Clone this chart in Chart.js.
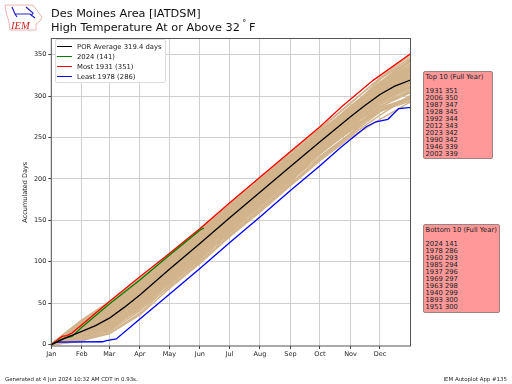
<!DOCTYPE html>
<html>
<head>
<meta charset="utf-8">
<title>Des Moines Area [IATDSM]</title>
<script src="https://cdn.jsdelivr.net/npm/chart.js@4"></script>
<style>
    body { margin: 0; background: #fff; font-family: "DejaVu Sans", sans-serif; color: #111; }
    #wrap { position: relative; width: 512px; height: 384px; overflow: hidden; }
    #chartCanvas { position: absolute; left: 0; top: 0; }
    .title { position: absolute; left: 51px; font-size: 11.3px; white-space: nowrap; line-height: 14px; }
    .title sup { font-size: 8px; line-height: 0; }
    .foot { position: absolute; top: 376px; font-size: 5.45px; line-height: 6px; color: #222; white-space: nowrap; }
    .box { position: absolute; box-sizing: border-box; background: #ff9999; border: 1px solid #a08080; border-radius: 2px;
        font-size: 6.8px; line-height: 7px; padding: 2px 1.5px; white-space: pre; color: #222; }
    #legend { position: absolute; left: 55px; top: 39px; width: 111px; height: 44px; box-sizing: border-box; background: #fff;
        border: 1px solid #ddd; border-radius: 2px; font-size: 6.85px; color: #222; }
    #legend .label { position: absolute; left: 21px; line-height: 7px; white-space: nowrap; }
    #legend .swatch { position: absolute; left: 1px; width: 15px; height: 0; border-top: 1.4px solid #000; }
    #logo { position: absolute; left: 0; top: 0; }
</style>
</head>
<body>
<div id="wrap">
    <canvas id="chartCanvas" width="512" height="384"></canvas>
    <svg id="logo" width="46" height="32" viewBox="0 0 46 32">
        <path d="M5 5 L33 5 L36 9 L42 17 L40 21 L36 24 L36 30 L10 30 L9 22 L6 12 Z" fill="#fff" stroke="#e8a0a0" stroke-width="0.8"/>
        <path d="M12 7 L15 14 L30 14 L35 18 M26 7 L33 13 L31 16 M15 14 L17 17" fill="none" stroke="#2222cc" stroke-width="1.2"/>
        <text x="11" y="28.5" font-family="Liberation Serif" font-style="italic" font-size="10.5" fill="#cc2222">IEM</text>
    </svg>
    <div class="title" style="top:7px">Des Moines Area [IATDSM]</div>
    <div class="title" style="top:21px">High Temperature At or Above 32<sup> ° </sup>F</div>
    <div id="legend"></div>
    <div class="box" id="topBox" style="left:423px;top:71px;width:70px;height:88px;padding-top:1.5px"></div>
    <div class="box" id="bottomBox" style="left:423px;top:224px;width:77px;height:89px"></div>
    <div class="foot" style="left:5px">Generated at 4 Jun 2024 10:32 AM CDT in 0.93s.</div>
    <div class="foot" style="right:5px">IEM Autoplot App #135</div>
</div>
<script>
// month starts and the last day of the year, day of year
const monthDays = [1, 32, 60, 91, 121, 152, 182, 213, 244, 274, 305, 335, 366];
const monthLabels = ['Jan', 'Feb', 'Mar', 'Apr', 'May', 'Jun', 'Jul', 'Aug', 'Sep', 'Oct', 'Nov', 'Dec'];
const yTicks = [0, 50, 100, 150, 200, 250, 300, 350];

// highlighted lines
const averageLineDays = [1, 15, 32, 46, 60, 75, 91, 121, 152, 182, 213, 244, 274, 305, 320, 335, 350, 366];
const averageLine = [0, 8, 16, 23, 32, 45, 60, 91, 122, 153, 184, 215, 245, 275, 289, 302, 312, 319.4];
const current2024Days = [1, 12, 22, 32, 60, 91, 121, 152, 156];
const current2024 = [0, 7, 10, 21, 49, 78, 108, 138, 141];
const most1931Days = [1, 12, 17, 22, 32, 60, 91, 121, 152, 182, 213, 244, 274, 296, 328, 366];
const most1931 = [0, 10, 11, 14, 24, 52, 82, 110, 140, 171, 202, 233, 263, 287, 319, 351];
const least1978Days = [1, 5, 53, 57, 67, 91, 121, 152, 183, 213, 244, 274, 295, 321, 331, 343, 354, 364, 366];
const least1978 = [0, 3, 3.5, 5, 7, 31, 61, 92, 124, 154, 186, 216, 238, 263, 269, 272, 285, 286, 286];

// other years, value at each of monthDays
const y1893 = [0, 10, 24, 50, 80, 108, 137, 168, 199, 231, 259, 283, 300];
const y1896 = [0, 14, 30, 58, 88, 118, 148, 180, 210, 239, 268, 296, 315];
const y1899 = [0, 13, 35, 64, 95, 126, 158, 187, 217, 246, 277, 305, 324];
const y1901 = [0, 20, 34, 62, 92, 122, 154, 186, 216, 245, 274, 302, 322];
const y1905 = [0, 9, 21, 49, 81, 111, 141, 172, 203, 233, 263, 290, 310];
const y1908 = [1, 29, 48, 79, 107, 139, 169, 197, 228, 258, 286, 310, 332];
const y1910 = [1, 24, 46, 76, 103, 133, 162, 192, 222, 250, 278, 304, 320];
const y1913 = [0, 15, 33, 56, 86, 116, 147, 179, 211, 240, 270, 299, 321];
const y1918 = [0, 12, 28, 59, 91, 119, 151, 182, 213, 243, 274, 303, 325];
const y1921 = [1, 25, 47, 78, 108, 137, 167, 198, 229, 257, 287, 313, 335];
const y1925 = [0, 19, 37, 60, 94, 124, 153, 183, 213, 244, 272, 299, 317];
const y1928 = [1, 14, 30, 62, 93, 125, 156, 190, 221, 251, 284, 315, 345];
const y1934 = [1, 27, 49, 75, 104, 136, 168, 198, 228, 256, 283, 309, 330];
const y1937 = [0, 18, 28, 52, 78, 105, 139, 172, 202, 233, 261, 283, 296];
const y1938 = [0, 17, 38, 68, 97, 127, 158, 190, 220, 249, 277, 303, 324];
const y1940 = [0, 6, 14, 38, 72, 103, 135, 170, 199, 233, 262, 284, 299];
const y1943 = [0, 11, 25, 55, 87, 117, 146, 176, 208, 238, 268, 296, 318];
const y1946 = [1, 20, 38, 72, 98, 128, 158, 190, 219, 249, 279, 312, 339];
const y1949 = [0, 16, 29, 57, 85, 114, 145, 177, 207, 236, 265, 292, 312];
const y1951 = [0, 8, 22, 42, 70, 100, 132, 162, 194, 225, 254, 281, 300];
const y1954 = [1, 23, 41, 69, 99, 129, 159, 188, 217, 247, 278, 306, 328];
const y1957 = [0, 13, 27, 53, 83, 112, 143, 174, 205, 235, 263, 290, 306];
const y1960 = [0, 5, 13, 36, 68, 98, 130, 160, 192, 222, 250, 272, 293];
const y1962 = [0, 10, 20, 47, 77, 107, 138, 169, 200, 230, 259, 288, 304];
const y1963 = [0, 12, 26, 48, 82, 113, 144, 176, 206, 236, 266, 286, 298];
const y1966 = [0, 21, 39, 65, 95, 123, 152, 184, 214, 242, 270, 295, 313];
const y1969 = [0, 4, 18, 44, 74, 104, 134, 165, 196, 232, 258, 282, 297];
const y1971 = [1, 23, 44, 75, 106, 137, 166, 194, 226, 255, 282, 308, 329];
const y1973 = [0, 15, 31, 61, 89, 120, 150, 181, 212, 241, 271, 300, 319];
const y1976 = [1, 26, 43, 74, 101, 131, 161, 193, 224, 253, 281, 305, 327];
const y1979 = [0, 7, 16, 41, 75, 101, 131, 163, 194, 224, 252, 277, 301];
const y1981 = [0, 22, 35, 63, 93, 126, 155, 185, 215, 246, 275, 304, 326];
const y1983 = [0, 18, 32, 54, 84, 115, 149, 178, 209, 239, 267, 297, 320];
const y1985 = [0, 7, 17, 46, 80, 110, 140, 170, 200, 232, 260, 282, 294];
const y1987 = [1, 22, 42, 68, 100, 130, 160, 191, 222, 252, 285, 320, 347];
const y1989 = [0, 21, 36, 70, 103, 133, 163, 193, 221, 251, 280, 307, 323];
const y1990 = [1, 24, 40, 70, 98, 126, 157, 189, 220, 250, 280, 314, 342];
const y1992 = [1, 26, 44, 72, 102, 132, 163, 194, 225, 255, 287, 317, 344];
const y1995 = [0, 11, 23, 51, 79, 109, 142, 175, 204, 234, 262, 293, 316];
const y1998 = [1, 24, 45, 73, 100, 128, 160, 192, 223, 254, 284, 312, 336];
const y2000 = [1, 25, 42, 74, 105, 135, 164, 195, 224, 253, 285, 313, 334];
const y2001 = [0, 9, 26, 58, 90, 121, 151, 180, 210, 240, 269, 298, 318];
const y2002 = [1, 16, 36, 66, 96, 124, 155, 186, 218, 247, 276, 308, 339];
const y2004 = [0, 14, 33, 65, 97, 129, 159, 189, 219, 248, 281, 309, 330];
const y2005 = [0, 20, 40, 67, 96, 130, 160, 191, 221, 248, 276, 307, 331];
const y2006 = [1, 28, 50, 80, 106, 138, 168, 199, 231, 260, 291, 322, 350];
const y2010 = [0, 8, 19, 45, 76, 106, 136, 167, 198, 227, 255, 286, 308];
const y2012 = [1, 30, 52, 78, 110, 140, 170, 201, 232, 261, 292, 321, 343];
const y2014 = [0, 12, 22, 52, 86, 119, 149, 178, 206, 237, 266, 294, 311];
const y2016 = [1, 19, 43, 71, 101, 134, 164, 195, 226, 256, 288, 316, 338];
const y2017 = [1, 28, 46, 77, 105, 135, 165, 196, 227, 258, 285, 311, 333];
const y2019 = [0, 15, 24, 50, 83, 111, 141, 173, 204, 231, 260, 287, 305];
const y2020 = [0, 17, 35, 66, 94, 127, 157, 187, 218, 248, 279, 310, 329];
const y2021 = [0, 19, 27, 56, 88, 120, 153, 185, 216, 244, 275, 305, 328];
const y2023 = [0, 18, 36, 64, 92, 125, 156, 188, 219, 250, 282, 314, 342];

const otherYears = [y1893, y1896, y1899, y1901, y1905, y1908, y1910, y1913, y1918, y1921, y1925, y1928, y1934, y1937,
    y1938, y1940, y1943, y1946, y1949, y1951, y1954, y1957, y1960, y1962, y1963, y1966, y1969, y1971, y1973, y1976,
    y1979, y1981, y1983, y1985, y1987, y1989, y1990, y1992, y1995, y1998, y2000, y2001, y2002, y2004, y2005, y2006,
    y2010, y2012, y2014, y2016, y2017, y2019, y2020, y2021, y2023];

const topTen = ['1931 351', '2006 350', '1987 347', '1928 345', '1992 344', '2012 343', '2023 342', '1990 342', '1946 339', '2002 339'];
const bottomTen = ['2024 141', '1978 286', '1960 293', '1985 294', '1937 296', '1969 297', '1963 298', '1940 299', '1893 300', '1951 300'];

const lineLabels = ['POR Average 319.4 days', '2024 (141)', 'Most 1931 (351)', 'Least 1978 (286)'];
const lineColors = ['#000000', '#008000', '#ff0000', '#0000ff'];

function toPoints(days, values) {
    return values.map((v, i) => ({ x: days[i], y: v }));
}

const mainPoints = [
    toPoints(averageLineDays, averageLine),
    toPoints(current2024Days, current2024),
    toPoints(most1931Days, most1931),
    toPoints(least1978Days, least1978)
];

const mainLines = mainPoints.map((points, i) => ({
    label: lineLabels[i],
    data: points,
    borderColor: lineColors[i],
    borderWidth: 1.3
}));

const tanLines = otherYears.map(values => ({
    label: '',
    data: toPoints(monthDays, values),
    borderColor: '#d2b48c',
    borderWidth: 1.5
}));

// Frame around the plot, the grid only gives the left and bottom sides
const framePlugin = {
    id: 'frame',
    afterDraw(chart) {
        const a = chart.chartArea;
        const c = chart.ctx;
        c.save();
        c.strokeStyle = '#555';
        c.lineWidth = 1;
        c.strokeRect(a.left, a.top, a.right - a.left, a.bottom - a.top);
        c.restore();
    }
};

const tickFont = { family: 'DejaVu Sans', size: 6.5 };

window.onload = function() {
    new Chart(document.getElementById('chartCanvas').getContext('2d'), {
        type: 'line',
        data: { datasets: mainLines.concat(tanLines) },
        options: {
            responsive: false,
            animation: false,
            parsing: false,
            normalized: true,
            layout: { padding: { top: 38.5, right: 101.5, left: 21, bottom: 0 } },
            elements: { point: { radius: 0 }, line: { tension: 0 } },
            plugins: { legend: { display: false }, title: { display: false }, tooltip: { enabled: false } },
            scales: {
                x: {
                    type: 'linear',
                    min: 1,
                    max: 366,
                    afterBuildTicks(scale) { scale.ticks = monthDays.slice(0, 12).map(d => ({ value: d })); },
                    afterFit(scale) { scale.height = 38; },
                    ticks: {
                        autoSkip: false,
                        maxRotation: 0,
                        font: tickFont,
                        color: '#222',
                        padding: 1,
                        callback: value => monthLabels[monthDays.indexOf(value)]
                    },
                    grid: { color: '#cfcfcf', lineWidth: 1, tickLength: 3, tickColor: '#444' },
                    border: { display: false }
                },
                y: {
                    type: 'linear',
                    min: -1.6,
                    max: 369.5,
                    afterBuildTicks(scale) { scale.ticks = yTicks.map(v => ({ value: v })); },
                    afterFit(scale) { scale.width = 30.3; },
                    ticks: { font: tickFont, color: '#222', padding: 2 },
                    grid: {
                        // the zero line sits on the frame, so only its tick shows
                        color: ctx => (ctx.tick && ctx.tick.value === 0 ? 'rgba(0,0,0,0)' : '#cfcfcf'),
                        lineWidth: 1,
                        tickLength: 3,
                        tickColor: '#444'
                    },
                    border: { display: false },
                    title: {
                        display: true,
                        text: 'Accumulated Days',
                        font: tickFont,
                        color: '#222',
                        padding: 0
                    }
                }
            }
        },
        plugins: [framePlugin]
    });

    // Legend rows
    const legend = document.getElementById('legend');
    lineLabels.forEach((name, i) => {
        const label = document.createElement('div');
        label.className = 'label';
        label.style.top = (3.5 + i * 10) + 'px';
        label.textContent = name;
        legend.appendChild(label);
        const swatch = document.createElement('div');
        swatch.className = 'swatch';
        swatch.style.top = (6 + i * 10) + 'px';
        swatch.style.borderTopColor = lineColors[i];
        legend.appendChild(swatch);
    });

    document.getElementById('topBox').textContent = 'Top 10 (Full Year)\n\n' + topTen.join('\n');
    document.getElementById('bottomBox').textContent = 'Bottom 10 (Full Year)\n\n' + bottomTen.join('\n');
};
</script>
</body>
</html>
